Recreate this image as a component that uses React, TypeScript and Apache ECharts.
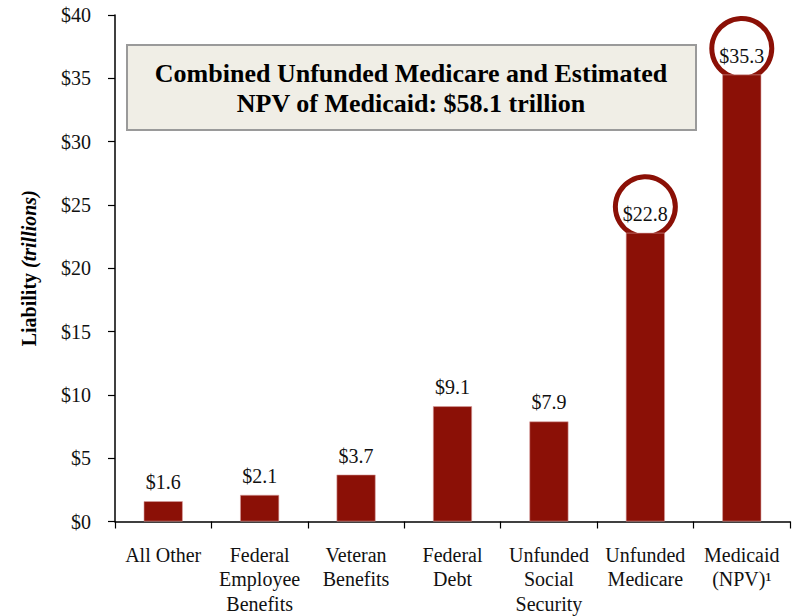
import React, { useEffect, useRef } from "react";
import * as echarts from "echarts";

const categories = [
  "All Other",
  "Federal\nEmployee\nBenefits",
  "Veteran\nBenefits",
  "Federal\nDebt",
  "Unfunded\nSocial\nSecurity",
  "Unfunded\nMedicare",
  "Medicaid\n(NPV)¹",
];
const liabilities = [1.6, 2.1, 3.7, 9.1, 7.9, 22.8, 35.3];
const circledIndices = [5, 6];
const yTicks = { min: 0, max: 40, interval: 5 };
const titleLines = [
  "Combined Unfunded Medicare and Estimated",
  "NPV of Medicaid: $58.1 trillion",
];

const BAR = "#8B1006";
const FONT = "'Liberation Serif', 'Times New Roman', serif";

export default function App() {
  const ref = useRef<HTMLDivElement>(null);
  useEffect(() => {
    if (!ref.current) return;
    const chart = echarts.init(ref.current, undefined, { renderer: "svg" });
    const circleData = categories.map((_, i) =>
      circledIndices.includes(i) ? liabilities[i] : "-"
    );
    chart.setOption({
      animation: false,
      backgroundColor: "#ffffff",
      textStyle: { fontFamily: FONT },
      grid: { left: 115, right: 12, top: 15, bottom: 93, containLabel: false },
      xAxis: {
        type: "category",
        data: categories,
        axisLine: { lineStyle: { color: "#000", width: 1.5 } },
        axisTick: { show: true, length: 7, alignWithLabel: false, lineStyle: { color: "#000", width: 1.2 } },
        axisLabel: {
          color: "#111",
          fontFamily: FONT,
          fontSize: 20,
          lineHeight: 24.5,
          margin: 21,
          interval: 0,
        },
      },
      yAxis: {
        type: "value",
        min: yTicks.min,
        max: yTicks.max,
        interval: yTicks.interval,
        name: "{b|Liability }{i|(trillions)}",
        nameLocation: "middle",
        nameGap: 76,
        nameRotate: 90,
        nameTextStyle: {
          rich: {
            b: { fontFamily: FONT, fontSize: 20, fontWeight: "bold", color: "#000" },
            i: { fontFamily: FONT, fontSize: 20, fontWeight: "bold", fontStyle: "italic", color: "#000" },
          },
        },
        axisLine: { show: true, lineStyle: { color: "#000", width: 1.5 } },
        axisTick: { show: true, length: 7, lineStyle: { color: "#000", width: 1.2 } },
        splitLine: { show: false },
        axisLabel: {
          color: "#111",
          fontFamily: FONT,
          fontSize: 20,
          margin: 24,
          formatter: (v: number) => "$" + v,
        },
      },
      series: [
        {
          type: "scatter",
          data: circleData,
          z: 1,
          symbol: "circle",
          symbolSize: 60,
          symbolOffset: [0, -26],
          itemStyle: { color: "#ffffff", borderColor: BAR, borderWidth: 5, opacity: 1 },
          silent: true,
        },
        {
          type: "bar",
          data: liabilities,
          z: 2,
          barWidth: 39,
          itemStyle: { color: BAR, borderColor: "#d9a0a0", borderWidth: 0.6 },
          label: {
            show: true,
            position: "top",
            distance: 9,
            fontFamily: FONT,
            fontSize: 20,
            color: "#111",
            formatter: (p: any) => "$" + p.value.toFixed(1),
          },
        },
      ],
      graphic: [
        {
          type: "rect",
          shape: { x: 127, y: 45, width: 569, height: 85 },
          style: { fill: "#F0EEE6", stroke: "#9a9a9a", lineWidth: 2 },
          z: 10,
        },
        {
          type: "text",
          x: 411,
          y: 88,
          z: 11,
          style: {
            text: titleLines.join("\n"),
            fontFamily: FONT,
            fontSize: 26,
            fontWeight: "bold",
            lineHeight: 30,
            fill: "#000",
            align: "center",
            verticalAlign: "middle",
          },
        },
      ],
    });
    return () => chart.dispose();
  }, []);
  return (
    <div
      ref={ref}
      style={{ position: "fixed", left: 0, top: 0, width: 802, height: 616 }}
    />
  );
}
